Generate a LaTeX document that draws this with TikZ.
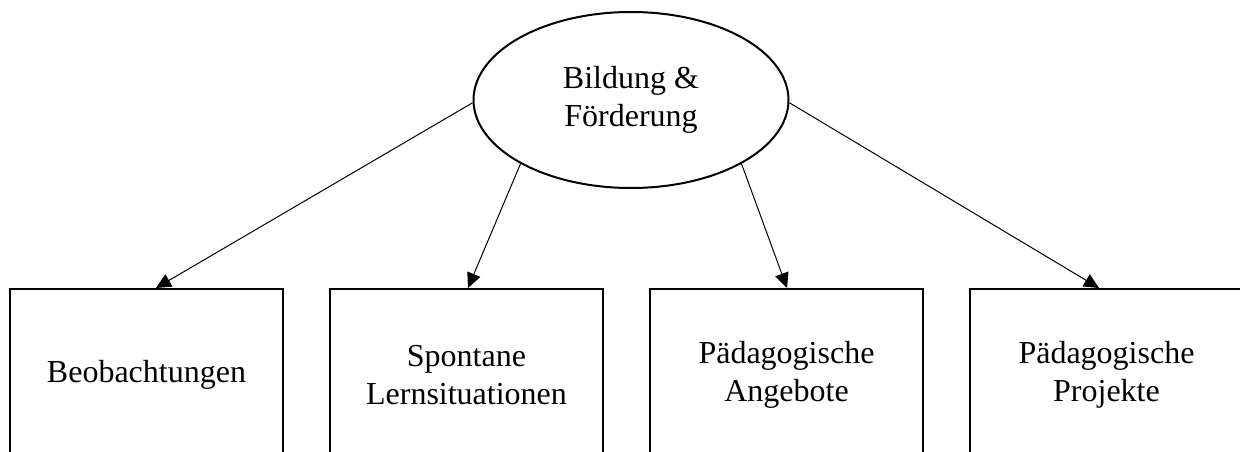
\documentclass[tikz,border=0pt]{standalone}
\usepackage{fontspec}
\setmainfont{Liberation Serif}
\usetikzlibrary{arrows.meta,shapes.geometric}
\begin{document}
\begin{tikzpicture}[x=1pt,y=-1pt,
  txt/.style={font=\fontsize{32}{38}\selectfont,align=center},
  hub/.style={txt,draw,ellipse,line width=2pt,minimum width=315pt,minimum height=176pt,inner sep=0pt},
  box/.style={txt,draw,line width=2pt,minimum width=273pt,minimum height=172pt,inner sep=0pt,anchor=north},
  arr/.style={line width=1pt,-{Triangle[length=15pt,width=14pt]}}]
\useasboundingbox (0,0) rectangle (1240,452);
\clip (0,0) rectangle (1240,452);

% central topic
\node[hub] (hub) at (631,100) {Bildung \&\\Förderung};

% four areas, their lower edges run below the page
\node[box] (b1) at (146.5,288) {Beobachtungen};
\node[box] (b2) at (466.5,288) {Spontane\\Lernsituationen};
\node[box] (b3) at (786.5,288) {Pädagogische\\Angebote};
\node[box] (b4) at (1106.5,288) {Pädagogische\\Projekte};

% connectors
\draw[arr] (hub.181) -- ([xshift=9.5pt]b1.north);
\draw[arr] (hub.210) -- ([xshift=1.5pt]b2.north);
\draw[arr] (hub.330) -- ([xshift=0.5pt]b3.north);
\draw[arr] (hub.359) -- ([xshift=-7.5pt]b4.north);
\end{tikzpicture}
\end{document}
